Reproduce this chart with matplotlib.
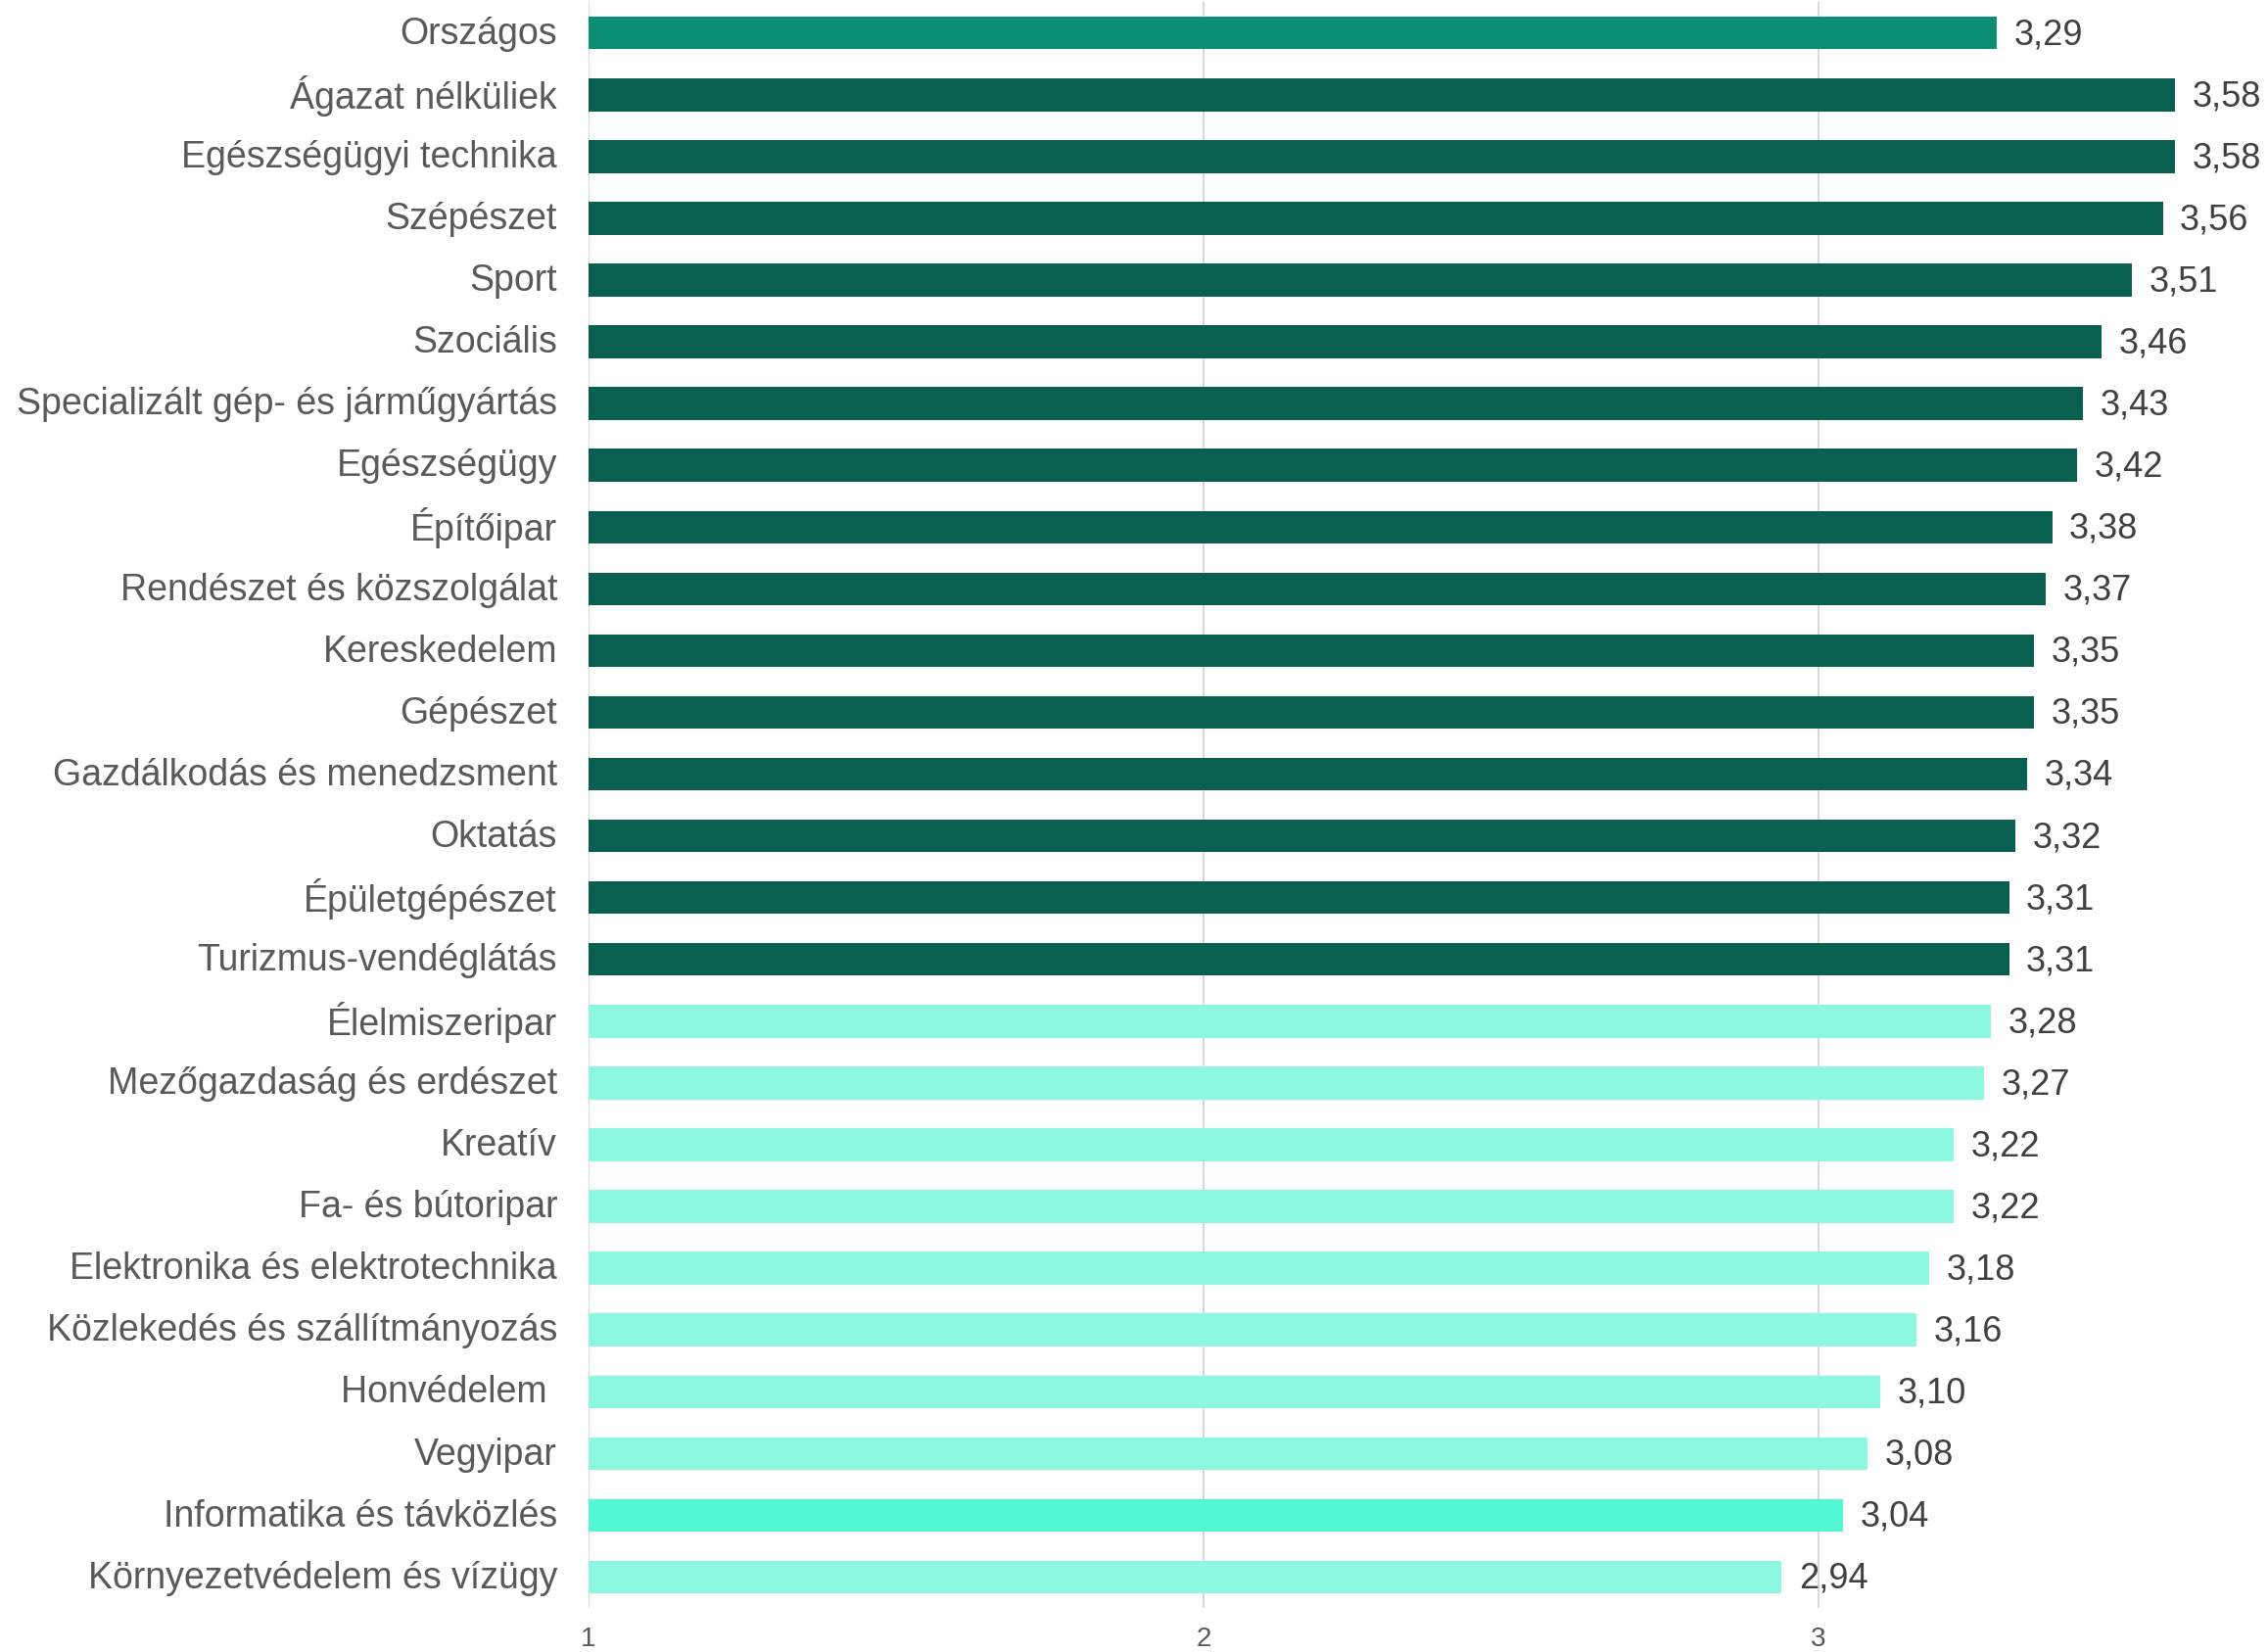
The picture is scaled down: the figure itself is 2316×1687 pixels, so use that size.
import matplotlib
matplotlib.use("Agg")
import matplotlib.pyplot as plt
from matplotlib.transforms import ScaledTranslation

categories = [
    "Országos", "Ágazat nélküliek", "Egészségügyi technika", "Szépészet", "Sport",
    "Szociális", "Specializált gép- és járműgyártás", "Egészségügy", "Építőipar",
    "Rendészet és közszolgálat", "Kereskedelem", "Gépészet",
    "Gazdálkodás és menedzsment", "Oktatás", "Épületgépészet",
    "Turizmus-vendéglátás", "Élelmiszeripar", "Mezőgazdaság és erdészet",
    "Kreatív", "Fa- és bútoripar", "Elektronika és elektrotechnika",
    "Közlekedés és szállítmányozás", "Honvédelem ", "Vegyipar",
    "Informatika és távközlés", "Környezetvédelem és vízügy",
]
values = [3.29, 3.58, 3.58, 3.56, 3.51, 3.46, 3.43, 3.42, 3.38, 3.37, 3.35, 3.35,
          3.34, 3.32, 3.31, 3.31, 3.28, 3.27, 3.22, 3.22, 3.18, 3.16, 3.10, 3.08,
          3.04, 2.94]
groups = ["national"] + ["above"] * 15 + ["below"] * 8 + ["highlight"] + ["below"]
xticks = [1, 2, 3]

color_map = {"national": "#0a8f73", "above": "#09604f",
             "below": "#8df8e0", "highlight": "#52f7d4"}

plt.rcParams['font.family'] = ['Liberation Sans', 'DejaVu Sans']

fig = plt.figure(figsize=(23.16, 16.87), dpi=100)
ax = fig.add_axes([0.2595, 0.0267, 0.7185, 0.972])

ypos = list(range(len(categories)))
base = 1
ax.barh(ypos, [v - base for v in values], left=base, height=0.53,
        color=[color_map[g] for g in groups], zorder=3)

for y, v in zip(ypos, values):
    ax.text(v + 0.028, y + 0.03, f"{v:.2f}".replace(".", ","), va="center", ha="left",
            fontsize=26, color="#404040")

ax.set_xlim(1, 3.65)
ax.set_ylim(len(categories) - 0.5, -0.5)
ax.set_yticks(ypos)
ax.set_yticklabels(categories, fontsize=27, color="#595959")
ax.set_xticks(xticks)
ax.set_xticklabels([str(t) for t in xticks], fontsize=20, color="#595959")
ax.tick_params(axis="y", length=0, pad=23)
ax.tick_params(axis="x", length=0, pad=14)
shift = ScaledTranslation(0, 2 / 72, fig.dpi_scale_trans)
for lbl in ax.get_yticklabels():
    lbl.set_transform(lbl.get_transform() + shift)
ax.grid(axis="x", color="#d9d9d9", linewidth=1.5, zorder=0)
for s in ax.spines.values():
    s.set_visible(False)

fig.savefig("out.png", dpi=100)
